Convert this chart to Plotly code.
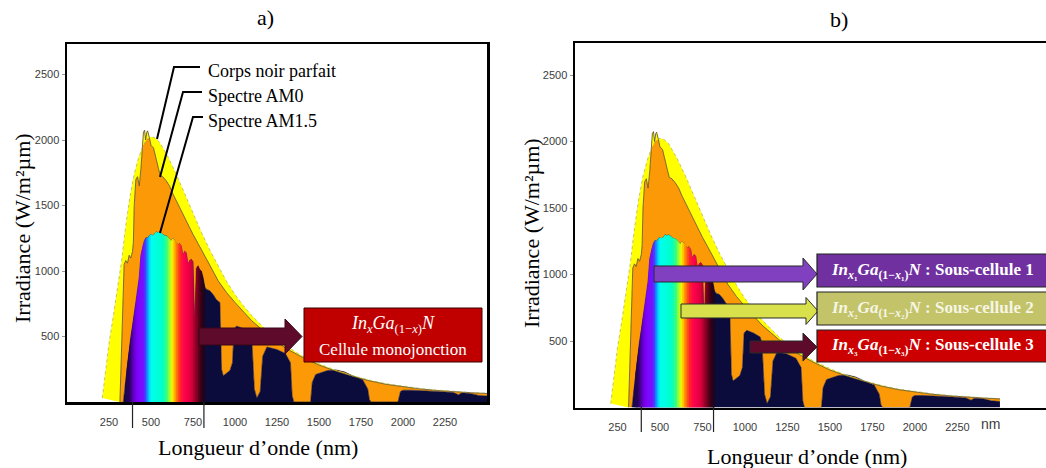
import plotly.graph_objects as go

W, H = 1046, 468

# ---------------- data ----------------
bb_nm = [210, 230, 250, 275, 300, 325, 350, 375, 400, 425, 450, 475, 500, 525, 550, 575,
         600, 650, 700, 750, 800, 850, 900, 950, 1000, 1050, 1100, 1200, 1300, 1400, 1500,
         1600, 1700, 1800, 1900, 2000, 2100, 2200, 2300, 2400, 2500]
bb_val = [30, 250, 450, 650, 850, 1080, 1350, 1570, 1740, 1860, 1950, 2005, 2025, 2015, 1985,
          1935, 1875, 1740, 1590, 1440, 1295, 1160, 1035, 920, 820, 735, 660, 530, 430, 352,
          292, 242, 202, 167, 140, 120, 104, 91, 81, 73, 67]

am0_nm = [315, 320, 330, 340, 350, 360, 370, 380, 390, 395, 400, 410, 420, 430, 440, 450,
          455, 462, 468, 475, 480, 490, 500, 515, 530, 545, 555, 570, 590, 610, 630, 660,
          690, 720, 750, 780, 800, 850, 900, 950, 1000, 1050, 1100, 1150, 1200, 1300, 1400,
          1500, 1600, 1700, 1800, 1900, 2000, 2100, 2200, 2300, 2400, 2500]
am0_val = [0, 200, 700, 1050, 1080, 1060, 1120, 1100, 1150, 1220, 1500, 1700, 1720, 1650,
           1780, 1980, 2060, 2075, 2000, 2060, 2070, 2020, 1960, 1940, 1850, 1780, 1730, 1720,
           1690, 1650, 1590, 1510, 1430, 1360, 1280, 1210, 1165, 1045, 925, 835, 760, 690,
           620, 565, 510, 412, 342, 282, 236, 197, 162, 135, 115, 100, 88, 78, 71, 65]

am15_nm = [335, 345, 355, 370, 380, 390, 400, 410, 420, 430, 440, 450, 460, 470, 480, 490,
           500, 510, 520, 530, 540, 550, 560, 570, 580, 590, 600, 610, 620, 630, 640, 650,
           660, 670, 680, 690, 700, 710, 720, 730, 740, 750, 760, 770, 780, 790, 800, 810,
           820, 830, 850, 870, 890, 910, 920, 930, 950, 970, 985, 995, 1010, 1050, 1090,
           1100, 1115, 1130, 1150, 1165, 1190, 1250, 1300, 1330, 1340, 1350, 1450, 1460,
           1480, 1550, 1600, 1650, 1700, 1760, 1790, 1800, 1810, 1970, 1985, 2000, 2050,
           2100, 2200, 2300, 2330, 2350, 2400, 2450, 2500]
am15_val = [0, 120, 250, 400, 500, 580, 680, 760, 850, 950, 1120, 1190, 1230, 1255, 1250,
            1270, 1280, 1270, 1280, 1300, 1290, 1300, 1290, 1280, 1270, 1270, 1260, 1240,
            1230, 1250, 1230, 1220, 1200, 1210, 1190, 1120, 1150, 1140, 1050, 1080, 1090,
            1070, 600, 1020, 1040, 1010, 1000, 950, 880, 860, 850, 820, 780, 760, 250, 200,
            220, 240, 300, 560, 580, 560, 530, 480, 100, 30, 80, 350, 420, 400, 370, 300, 50,
            0, 0, 150, 210, 240, 245, 230, 200, 170, 100, 20, 0, 0, 80, 90, 90, 85, 80, 72,
            55, 70, 65, 50, 45]

x_tick_vals = [250, 500, 750, 1000, 1250, 1500, 1750, 2000, 2250]
y_tick_vals = [500, 1000, 1500, 2000, 2500]
visible_edges = [390, 815]

labels_a = ["Corps noir parfait", "Spectre AM0", "Spectre AM1.5"]
cells_b = ["<b><i>In</i><sub><i>x</i>₁</sub><i>Ga</i><sub>(1−<i>x</i>₁)</sub><i>N</i> : Sous-cellule 1</b>",
           "<b><i>In</i><sub><i>x</i>₂</sub><i>Ga</i><sub>(1−<i>x</i>₂)</sub><i>N</i> : Sous-cellule 2</b>",
           "<b><i>In</i><sub><i>x</i>₃</sub><i>Ga</i><sub>(1−<i>x</i>₃)</sub><i>N</i> : Sous-cellule 3</b>"]

# ---------------- styles ----------------
NAVY = "#0b0b3c"
ORANGE = "#fb9906"
YELLOW = "#ffff00"
SERIF = "Liberation Serif, Times New Roman, serif"
NARROW = "Liberation Sans Narrow, Arial Narrow, Liberation Sans, Arial, sans-serif"
TICK_COLOR = "#3c3c3c"

stops = [(320, (12, 10, 60)), (370, (40, 0, 90)), (398, (100, 0, 200)), (420, (128, 0, 255)),
         (455, (115, 20, 255)), (470, (50, 80, 255)), (485, (0, 190, 255)), (500, (0, 255, 240)),
         (570, (0, 255, 200)), (595, (60, 255, 120)), (612, (170, 255, 40)), (628, (255, 240, 0)),
         (648, (255, 140, 0)), (672, (255, 40, 40)), (700, (255, 0, 80)), (740, (220, 0, 60)),
         (772, (130, 0, 35)), (800, (50, 0, 20)), (830, (12, 10, 40))]


def spectrum_color(nm):
    if nm <= stops[0][0]:
        c = stops[0][1]
    elif nm >= stops[-1][0]:
        c = stops[-1][1]
    else:
        for (a, ca), (b, cb) in zip(stops[:-1], stops[1:]):
            if a <= nm <= b:
                t = (nm - a) / (b - a)
                c = tuple(ca[k] + (cb[k] - ca[k]) * t for k in range(3))
                break
    return "rgb(%d,%d,%d)" % tuple(int(round(v)) for v in c)


def X(px):
    return px / W


def Y(py):
    return 1 - py / H


fig = go.Figure()


def add_panel(xa, ya):
    fig.add_trace(go.Scatter(x=am15_nm, y=am15_val, mode="lines", fill="tozeroy",
                             fillcolor=NAVY, line=dict(width=0.6, color=NAVY),
                             xaxis=xa, yaxis=ya, hoverinfo="skip", showlegend=False))
    fig.add_trace(go.Scatter(x=am0_nm, y=am0_val, mode="lines", fill="tonexty",
                             fillcolor=ORANGE, line=dict(width=0.8, color="#5a4a30"),
                             xaxis=xa, yaxis=ya, hoverinfo="skip", showlegend=False))
    fig.add_trace(go.Scatter(x=bb_nm, y=bb_val, mode="lines", fill="tonexty",
                             fillcolor=YELLOW, line=dict(width=0.6, color="#9a9a60", dash="dot"),
                             xaxis=xa, yaxis=ya, hoverinfo="skip", showlegend=False))
    idx = [i for i, v in enumerate(am15_nm) if 345 <= v <= 820]
    for i in idx[:-1]:
        j_end = min(i + 2, idx[-1])
        xs = am15_nm[i:j_end + 1]
        ys = am15_val[i:j_end + 1]
        mid = (am15_nm[i] + am15_nm[i + 1]) / 2
        col = spectrum_color(mid)
        fig.add_trace(go.Scatter(x=xs, y=ys, mode="lines", fill="tozeroy", fillcolor=col,
                                 line=dict(width=0, color=col), xaxis=xa, yaxis=ya,
                                 hoverinfo="skip", showlegend=False))


add_panel("x", "y")
add_panel("x2", "y2")

tickfont = dict(family=NARROW, size=11, color=TICK_COLOR)
common_x = dict(showgrid=False, zeroline=False, showline=True, linecolor="black", linewidth=2.5,
                tickvals=x_tick_vals, ticks="outside", ticklen=8, tickcolor="rgba(0,0,0,0)",
                tickfont=tickfont, fixedrange=True, automargin=False)
common_y = dict(showgrid=False, zeroline=False, showline=True, linecolor="black", linewidth=2.5,
                tickvals=y_tick_vals, ticks="outside", ticklen=3, tickwidth=1, tickcolor="#999",
                tickfont=tickfont, fixedrange=True, automargin=False)

fig.update_layout(
    template="none",
    width=W, height=H, margin=dict(l=0, r=0, t=0, b=0),
    paper_bgcolor="white", plot_bgcolor="white", showlegend=False,
    font=dict(family=SERIF, color="black"),
    xaxis=dict(domain=[X(67), X(487)], range=[0, 2500], anchor="y", mirror=True, **common_x),
    yaxis=dict(domain=[Y(402), Y(44)], range=[0, 2733], anchor="x", mirror=True, **common_y),
    xaxis2=dict(domain=[X(575), 1.0], range=[0, 2771], anchor="y2", mirror=True, **common_x),
    yaxis2=dict(domain=[Y(407.5), Y(43)], range=[0, 2741], anchor="x2", mirror=False, **common_y),
)

shapes = []
annots = []


def label(text, px, py, size, color="black", xanchor="center", angle=0, family=SERIF):
    annots.append(dict(text=text, x=X(px), y=Y(py), xref="paper", yref="paper", showarrow=False,
                       xanchor=xanchor, yanchor="middle", textangle=angle,
                       font=dict(family=family, size=size, color=color)))


# visible-range separators under the axes
for xa, ybot, ytop in (("x", 402, 428), ("x2", 407, 432)):
    for v in visible_edges:
        shapes.append(dict(type="line", xref=xa, yref="paper", x0=v, x1=v, y0=Y(ybot), y1=Y(ytop),
                           line=dict(color="#222", width=1.2)))

# unit label at the end of the b) axis
label("nm", 990, 424, 14, color=TICK_COLOR, family=NARROW)

# titles
label("a)", 265, 18, 22)
label("b)", 839, 20, 22)
for cx, cy in ((22, 228), (531, 233)):
    label("Irradiance (W/m²µm)", cx, cy, 22, angle=-90)
for cx, cy in ((258, 447), (807, 456)):
    label("Longueur d’onde (nm)", cx, cy, 22)

# leader labels panel a
leaders = [((200, 67), (174, 67), (157, 139)),
           ((202, 92), (183, 92), (160, 177)),
           ((203, 117), (193, 117), (160, 233))]
for (p0, p1, p2), lab, ty in zip(leaders, labels_a, (71, 96, 121)):
    path = "M %f,%f L %f,%f L %f,%f" % (X(p0[0]), Y(p0[1]), X(p1[0]), Y(p1[1]), X(p2[0]), Y(p2[1]))
    shapes.append(dict(type="path", xref="paper", yref="paper", path=path,
                       line=dict(color="black", width=2)))
    label(lab, 206, ty, 18, xanchor="left")


def block_arrow(x0, xh, tip, yc, sh, hh, fill, edge):
    pts = [(x0, yc - sh), (xh, yc - sh), (xh, yc - hh), (tip, yc), (xh, yc + hh), (xh, yc + sh),
           (x0, yc + sh)]
    path = "M " + " L ".join("%f,%f" % (X(a), Y(b)) for a, b in pts) + " Z"
    shapes.append(dict(type="path", xref="paper", yref="paper", path=path, fillcolor=fill,
                       line=dict(color=edge, width=1)))


# panel a arrow + box
block_arrow(199, 285, 302, 336.5, 8.5, 17.5, "#5e0b2b", "#3a0618")
shapes.append(dict(type="rect", xref="paper", yref="paper", x0=X(304), x1=X(482), y0=Y(308), y1=Y(362),
                   fillcolor="#c00000", line=dict(color="#3a0000", width=1)))
label("<i>In</i><sub><i>x</i></sub><i>Ga</i><sub>(1−<i>x</i>)</sub><i>N</i>", 393, 324, 18, color="white")
label("Cellule monojonction", 393, 349, 17, color="white")

# panel b arrows + boxes
block_arrow(654, 803, 817, 274, 8, 16, "#8040c0", "#2a2a2a")
block_arrow(681, 806, 818, 311, 7, 13.5, "#d8e04c", "#2a2a2a")
block_arrow(750, 803, 817, 347, 6, 14, "#5e0b2b", "#2a2a2a")
box_cols = ["#7030a0", "#c3c36a", "#cc0000"]
txt_cols = ["white", "#f6f6e4", "white"]
for (y0, y1), fc, tc, txt in zip(((254, 287), (292, 325), (330, 362)), box_cols, txt_cols, cells_b):
    shapes.append(dict(type="rect", xref="paper", yref="paper", x0=X(817), x1=X(1060), y0=Y(y0), y1=Y(y1),
                       fillcolor=fc, line=dict(color="#222", width=1.2)))
    label(txt, 932, (y0 + y1) / 2, 17, color=tc)

fig.update_layout(shapes=shapes, annotations=annots)
fig.write_html("out.html", config={"displayModeBar": False, "staticPlot": True},
               post_script="document.body.style.margin='0px';")
